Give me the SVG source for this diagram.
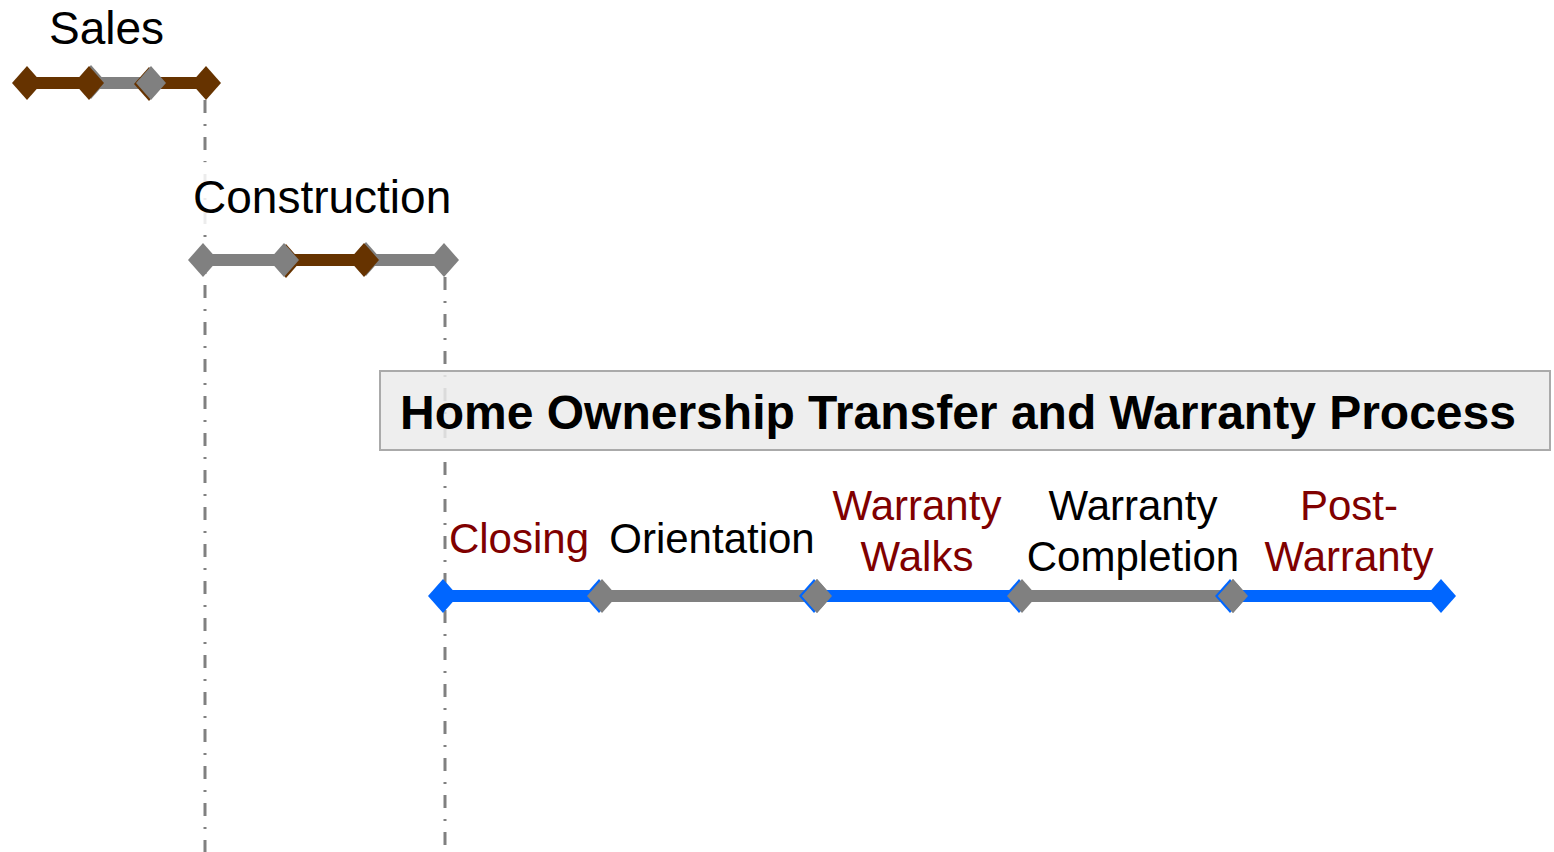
<svg xmlns="http://www.w3.org/2000/svg" width="1554" height="852" viewBox="0 0 1554 852">
<style>
.t{font-family:"Liberation Sans",Arial,sans-serif;}
.lbl{font-size:46px;fill:#000;}
.st{font-size:42px;text-anchor:middle;}
.red{fill:#800000;}
.blk{fill:#000;}
.guide{stroke:#808080;stroke-width:3;stroke-dasharray:13 11 2 11;fill:none;}
.bar{stroke-width:12;fill:none;}
.brown{stroke:#663300;}
.gray{stroke:#808080;}
.blue{stroke:#0066ff;}
.dB{fill:#663300;}
.dG{fill:#808080;}
.dU{fill:#0066ff;}
</style>
<defs>
<path id="dm" d="M0,-17 L15,0 L0,17 L-15,0 Z"/>
</defs>
<g id="connectors">
<line class="guide" x1="205" y1="100" x2="205" y2="852"/>
<line class="guide" x1="445" y1="277" x2="445" y2="852"/>
</g>
<g id="title">
<rect x="380" y="371" width="1170" height="79" fill="#ebebeb" fill-opacity="0.85" stroke="#aaaaaa" stroke-width="2"/>
<text class="t" x="958" y="429" font-size="48" font-weight="bold" text-anchor="middle" fill="#000">Home Ownership Transfer and Warranty Process</text>
</g>
<g id="sales">
<text class="t lbl" x="49" y="44">Sales</text>
<line class="bar brown" x1="27" y1="83" x2="89" y2="83"/>
<line class="bar gray" x1="89" y1="83" x2="151" y2="83"/>
<line class="bar brown" x1="151" y1="83" x2="206" y2="83"/>
<use href="#dm" class="dB" x="27" y="83"/>
<use href="#dm" class="dG" x="91" y="82"/>
<use href="#dm" class="dB" x="89" y="83"/>
<use href="#dm" class="dB" x="149" y="84"/>
<use href="#dm" class="dG" x="151" y="83"/>
<use href="#dm" class="dB" x="206" y="83"/>
</g>
<g id="construction">
<rect x="190" y="162" width="268" height="72" fill="#ffffff" fill-opacity="0.85"/>
<text class="t lbl" x="193" y="213">Construction</text>
<line class="bar gray" x1="203" y1="260" x2="285" y2="260"/>
<line class="bar brown" x1="285" y1="260" x2="364" y2="260"/>
<line class="bar gray" x1="364" y1="260" x2="444" y2="260"/>
<use href="#dm" class="dG" x="203" y="260"/>
<use href="#dm" class="dB" x="286" y="261"/>
<use href="#dm" class="dG" x="284" y="260"/>
<use href="#dm" class="dG" x="366" y="259"/>
<use href="#dm" class="dB" x="364" y="260"/>
<use href="#dm" class="dG" x="444" y="260"/>
</g>
<g id="closing">
<line class="bar blue" x1="443" y1="596" x2="602" y2="596"/>
<use href="#dm" class="dU" x="443" y="596"/>
<use href="#dm" class="dU" x="599" y="596"/>
<text class="t st red" x="519" y="553">Closing</text>
</g>
<g id="orientation">
<line class="bar gray" x1="602" y1="596" x2="816" y2="596"/>
<use href="#dm" class="dG" x="602" y="596"/>
<use href="#dm" class="dU" x="814" y="596"/>
<use href="#dm" class="dG" x="817" y="596"/>
<text class="t st blk" x="712" y="553">Orientation</text>
</g>
<g id="warranty-walks">
<line class="bar blue" x1="817" y1="596" x2="1021" y2="596"/>
<use href="#dm" class="dU" x="1019" y="596"/>
<use href="#dm" class="dG" x="817" y="596"/>
<text class="t st red" x="917" y="520">Warranty</text>
<text class="t st red" x="917" y="571">Walks</text>
</g>
<g id="warranty-completion">
<line class="bar gray" x1="1022" y1="596" x2="1232" y2="596"/>
<use href="#dm" class="dG" x="1022" y="596"/>
<use href="#dm" class="dU" x="1230" y="596"/>
<use href="#dm" class="dG" x="1233" y="596"/>
<text class="t st blk" x="1133" y="520">Warranty</text>
<text class="t st blk" x="1133" y="571">Completion</text>
</g>
<g id="post-warranty">
<line class="bar blue" x1="1233" y1="596" x2="1441" y2="596"/>
<use href="#dm" class="dG" x="1233" y="596"/>
<use href="#dm" class="dU" x="1441" y="596"/>
<text class="t st red" x="1349" y="520">Post-</text>
<text class="t st red" x="1349" y="571">Warranty</text>
</g>
</svg>
